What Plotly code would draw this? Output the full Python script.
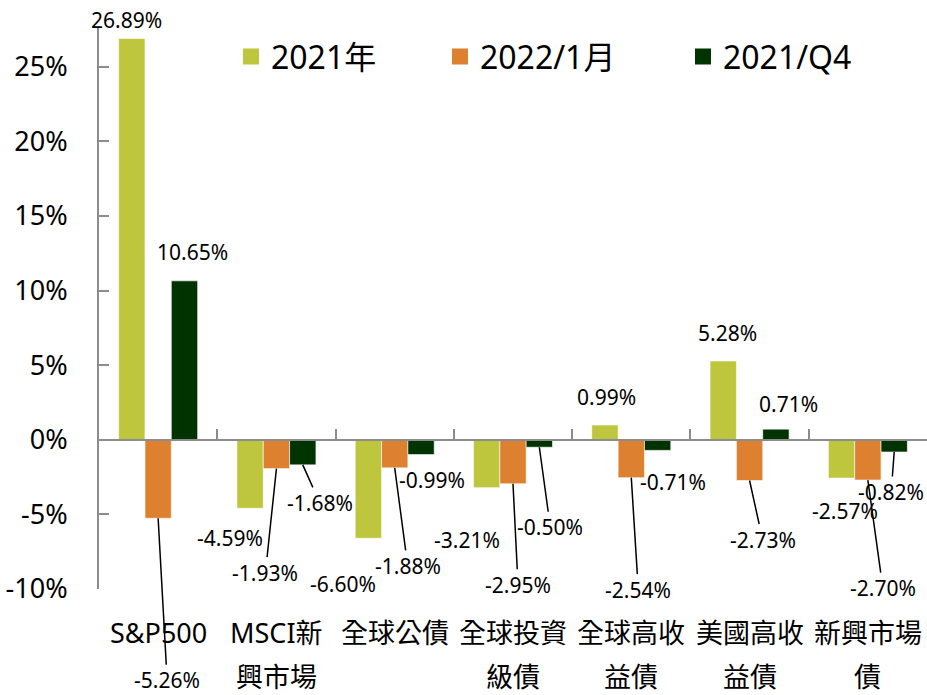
import plotly.graph_objects as go

# ---- data ----
categories = ["S&P500", "MSCI新興市場", "全球公債", "全球投資級債", "全球高收益債", "美國高收益債", "新興市場債"]
category_line1 = ["S&P500", "MSCI新", "全球公債", "全球投資", "全球高收", "美國高收", "新興市場"]
category_line2 = ["", "興市場", "", "級債", "益債", "益債", "債"]
series_names = ["2021年", "2022/1月", "2021/Q4"]
values_2021 = [26.89, -4.59, -6.60, -3.21, 0.99, 5.28, -2.57]
values_2022_jan = [-5.26, -1.93, -1.88, -2.95, -2.54, -2.73, -2.70]
values_2021_q4 = [10.65, -1.68, -0.99, -0.50, -0.71, 0.71, -0.82]
y_tick_vals = [-10, -5, 0, 5, 10, 15, 20, 25]
y_tick_text = ["-10%", "-5%", "0%", "5%", "10%", "15%", "20%", "25%"]

# ---- styling / label placement (pixels) ----
colors = ["#BDC63D", "#DD8030", "#003300"]
label_dx = [
    [-5, -20, -25, -20, 2, 4, 3],
    [9, -11, 13, 5, 7, 13, 15],
    [8, 17, 11, 11, 15, 13, -3],
]
label_dy = [
    [-18, 30, 46, 52, -28, -28, 33],
    [162, 104, 98, 101, 112, 59, 108],
    [-29, 38, 25, 80, 32, -25, 40],
]
leader = [
    [False] * 7,
    [True, True, True, True, True, True, True],
    [False, True, False, True, False, False, True],
]

all_values = [values_2021, values_2022_jan, values_2021_q4]
FONT = "Noto Sans, Noto Sans CJK TC, sans-serif"
bargap = 0.332
y_range = [-10, 27.66]
AXIS_GRAY = "#8C8C8C"

fig = go.Figure()
legend_ids = ["legend", "legend2", "legend3"]
for k, (name, vals) in enumerate(zip(series_names, all_values)):
    fig.add_trace(go.Bar(
        x=categories, y=vals, name=name,
        marker=dict(color=colors[k], line=dict(color="rgba(255,255,255,0.6)", width=1)),
        showlegend=False, hoverinfo="skip",
    ))
# legend entries (larger square swatches)
for k, name in enumerate(series_names):
    fig.add_trace(go.Scatter(
        x=[None], y=[None], name=name, mode="markers",
        marker=dict(symbol="square", size=16, color=colors[k]),
        legend=legend_ids[k], showlegend=True, hoverinfo="skip",
    ))

annotations = []
bw = (1 - bargap) / 3
for k, vals in enumerate(all_values):
    for i, v in enumerate(vals):
        annotations.append(dict(
            x=i + (k - 1) * bw, y=v, xref="x", yref="y",
            text=f"{v:.2f}%", showarrow=True, arrowhead=0, arrowwidth=1.5,
            arrowcolor="black" if leader[k][i] else "rgba(0,0,0,0)",
            ax=label_dx[k][i], ay=label_dy[k][i], standoff=0,
            font=dict(family=FONT, size=21, color="black"),
        ))

for i, (l1, l2) in enumerate(zip(category_line1, category_line2)):
    annotations.append(dict(x=categories[i], y=0, xref="x", yref="paper", yanchor="middle",
                            yshift=-43, text=l1, showarrow=False,
                            font=dict(family=FONT, size=27, color="black")))
    if l2:
        annotations.append(dict(x=categories[i], y=0, xref="x", yref="paper", yanchor="middle",
                                yshift=-87, text=l2, showarrow=False,
                                font=dict(family=FONT, size=27, color="black")))

zero_pos = -y_range[0] / (y_range[1] - y_range[0])
legend_font = dict(family=FONT, size=32, color="black")
legend_xs = [0.1594, 0.4118, 0.7053]
legend_layouts = {}
for lid, lx in zip(legend_ids, legend_xs):
    legend_layouts[lid] = dict(x=lx, y=0.947, xanchor="left", yanchor="middle",
                               orientation="h", font=legend_font, bgcolor="rgba(0,0,0,0)",
                               itemsizing="trace")

fig.update_layout(
    width=927, height=695,
    margin=dict(l=99, r=0, t=27, b=106),
    paper_bgcolor="white", plot_bgcolor="white",
    barmode="group", bargap=bargap, bargroupgap=0,
    showlegend=True,
    annotations=annotations,
    xaxis=dict(type="category", range=[-0.5, 6.5], anchor="free", position=zero_pos,
               showline=True, linecolor=AXIS_GRAY, linewidth=2,
               ticks="inside", ticklen=10, tickcolor=AXIS_GRAY, tickwidth=2,
               tickson="boundaries", showticklabels=False, showgrid=False, zeroline=False),
    yaxis=dict(range=y_range, tickvals=y_tick_vals, ticktext=y_tick_text,
               showline=True, linecolor=AXIS_GRAY, linewidth=2,
               ticks="outside", ticklen=24, tickcolor="rgba(0,0,0,0)",
               showgrid=False, zeroline=False,
               tickfont=dict(family=FONT, size=27, color="black")),
    yaxis2=dict(range=y_range, tickvals=y_tick_vals, overlaying="y", side="left", anchor="x",
                showline=False, ticks="inside", ticklen=10, tickcolor=AXIS_GRAY, tickwidth=2,
                showticklabels=False, showgrid=False, zeroline=False),
    **legend_layouts,
)
# hidden trace on yaxis2 so its inside tick marks are drawn
fig.add_trace(go.Scatter(x=[None], y=[None], yaxis="y2", showlegend=False, hoverinfo="skip"))

fig.write_html(
    "out.html",
    config={"displayModeBar": False},
    post_script="document.body.style.margin='0';document.body.style.overflow='hidden';",
)
